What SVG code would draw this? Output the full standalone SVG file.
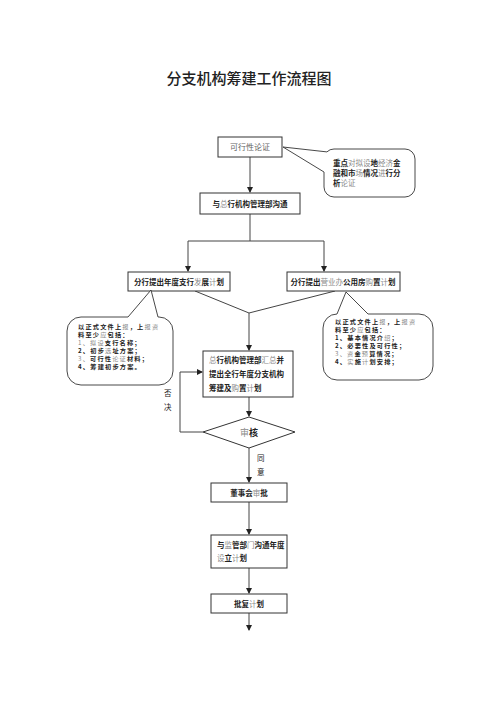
<svg xmlns="http://www.w3.org/2000/svg" width="500" height="708" viewBox="0 0 500 708">
<style>
.box{fill:#fff;stroke:#333;stroke-width:1}
.bub{fill:#fff;stroke:#333;stroke-width:0.9}
.ln{fill:none;stroke:#444;stroke-width:1}
.t{font-family:"Noto Sans CJK SC","Liberation Sans",sans-serif;font-size:7.5px;font-weight:bold;fill:#222}
.s{font-size:6.2px;letter-spacing:1.2px}
.c{text-anchor:middle}
.g{font-weight:normal;fill:#8a8a8a}
.title{font-family:"Noto Sans CJK SC",sans-serif;font-size:15px;font-weight:500;fill:#222;text-anchor:middle}
</style>
<defs>
<marker id="ah" markerWidth="6" markerHeight="6" refX="5" refY="3" orient="auto" markerUnits="userSpaceOnUse">
<path d="M0,0 L6,3 L0,6 Z" fill="#222"/>
</marker>
</defs>
<rect width="500" height="708" fill="#fff"/>
<text class="title" x="249" y="84">分支机构筹建工作流程图</text>

<g id="connectors">
<path class="ln" d="M250,157 V192" marker-end="url(#ah)"/>
<path class="ln" d="M250,214 V241"/>
<path class="ln" d="M250,241 H188 V271" marker-end="url(#ah)"/>
<path class="ln" d="M250,241 H324 V271" marker-end="url(#ah)"/>
<path class="ln" d="M195,291 L249,313"/>
<path class="ln" d="M335,291 L249,313"/>
<path class="ln" d="M249,313 V350" marker-end="url(#ah)"/>
<path class="ln" d="M249,397 V416" marker-end="url(#ah)"/>
<path class="ln" d="M203,432 H180 V372 H202" marker-end="url(#ah)"/>
<path class="ln" d="M249,448 V482" marker-end="url(#ah)"/>
<path class="ln" d="M249,502 V534" marker-end="url(#ah)"/>
<path class="ln" d="M249,568 V593" marker-end="url(#ah)"/>
<path class="ln" d="M249,613 V630" marker-end="url(#ah)"/>
<text class="t" style="font-weight:normal" x="164" y="396">否</text>
<text class="t" style="font-weight:normal" x="164" y="410">决</text>
<text class="t" style="font-weight:normal" x="257" y="461">同</text>
<text class="t" style="font-weight:normal" x="257" y="475">意</text>
</g>

<g id="n1">
<rect class="box" x="218" y="137" width="64" height="20"/>
<text class="t c" x="250" y="150" style="font-weight:normal;fill:#666;font-size:8px">可行性论证</text>
</g>

<g id="note1">
<path class="bub" d="M326.9,151.9 A10,10 0 0 1 334,149 H405 A10,10 0 0 1 415,159 V187 A10,10 0 0 1 405,197 H334 A10,10 0 0 1 324,187 V172 L283,147 Z"/>
<text class="t" x="333" y="166">重点<tspan class="g">对拟设</tspan>地<tspan class="g">经济</tspan>金</text>
<text class="t" x="333" y="176">融和市<tspan class="g">场</tspan>情况<tspan class="g">进</tspan>行分</text>
<text class="t" x="333" y="186">析<tspan class="g">论证</tspan></text>
</g>

<g id="n2">
<rect class="box" x="200" y="193" width="100" height="21"/>
<text class="t c" x="250" y="207">与<tspan class="g">总</tspan>行机构管理部沟通</text>
</g>

<g id="n3l">
<rect class="box" x="128" y="272" width="102" height="19"/>
<text class="t c" x="179" y="285">分行提出年度支行<tspan class="g">发</tspan>展<tspan class="g">计</tspan>划</text>
</g>

<g id="n3r">
<rect class="box" x="287" y="272" width="113" height="19"/>
<text class="t c" x="343" y="285">分行提出<tspan class="g">营业办</tspan>公用房<tspan class="g">购</tspan>置<tspan class="g">计</tspan>划</text>
</g>

<g id="note2">
<path class="bub" d="M81,317 H128 L151,290 L158,317 H159 A14,14 0 0 1 173,331 V371 A14,14 0 0 1 159,385 H81 A14,14 0 0 1 67,371 V331 A14,14 0 0 1 81,317 Z"/>
<text class="t s" x="78" y="329">以正式文件上<tspan class="g">报</tspan>，上<tspan class="g">报资</tspan></text>
<text class="t s" x="78" y="337">料至少<tspan class="g">应</tspan>包括：</text>
<text class="t s" x="78" y="345"><tspan class="g">1、拟设</tspan>支行名称；</text>
<text class="t s" x="78" y="353">2、初步<tspan class="g">选</tspan>址方案；</text>
<text class="t s" x="78" y="361"><tspan class="g">3、</tspan>可行性<tspan class="g">论证</tspan>材料；</text>
<text class="t s" x="78" y="369">4、筹建初步方案。</text>
</g>

<g id="note3">
<path class="bub" d="M337,314 L346,292 L368,314 H419 A14,14 0 0 1 433,328 V366 A14,14 0 0 1 419,380 H337 A14,14 0 0 1 323,366 V328 A14,14 0 0 1 337,314 Z"/>
<text class="t s" x="335" y="324">以正式文件上<tspan class="g">报</tspan>，上<tspan class="g">报资</tspan></text>
<text class="t s" x="335" y="332">料至少<tspan class="g">应</tspan>包括：</text>
<text class="t s" x="335" y="340">1、基本情况介<tspan class="g">绍</tspan>；</text>
<text class="t s" x="335" y="348">2、必要性及可行性；</text>
<text class="t s" x="335" y="356"><tspan class="g">3、资</tspan>金<tspan class="g">预</tspan>算情况；</text>
<text class="t s" x="335" y="364">4、<tspan class="g">实</tspan>施<tspan class="g">计</tspan>划安排；</text>
</g>

<g id="n4">
<rect class="box" x="203" y="351" width="90" height="46"/>
<text class="t" x="209" y="363"><tspan class="g">总</tspan>行机构管理部<tspan class="g">汇总</tspan>并</text>
<text class="t" x="209" y="377">提出全行年度分支机构</text>
<text class="t" x="209" y="391">筹建及<tspan class="g">购</tspan>置<tspan class="g">计</tspan>划</text>
</g>

<g id="n5">
<polygon class="box" points="249,417 295,432 249,448 203,432"/>
<text class="t c" x="249" y="435.5" style="font-size:9px"><tspan class="g">审</tspan>核</text>
</g>

<g id="n6">
<rect class="box" x="211" y="483" width="76" height="19"/>
<text class="t c" x="249" y="495.5">董事会<tspan class="g">审</tspan>批</text>
</g>

<g id="n7">
<rect class="box" x="211" y="535" width="76" height="33"/>
<text class="t" x="217" y="548">与<tspan class="g">监</tspan>管部<tspan class="g">门</tspan>沟通年度</text>
<text class="t" x="217" y="561"><tspan class="g">设</tspan>立<tspan class="g">计</tspan>划</text>
</g>

<g id="n8">
<rect class="box" x="211" y="594" width="76" height="19"/>
<text class="t c" x="249" y="606.5">批复<tspan class="g">计</tspan>划</text>
</g>
</svg>
